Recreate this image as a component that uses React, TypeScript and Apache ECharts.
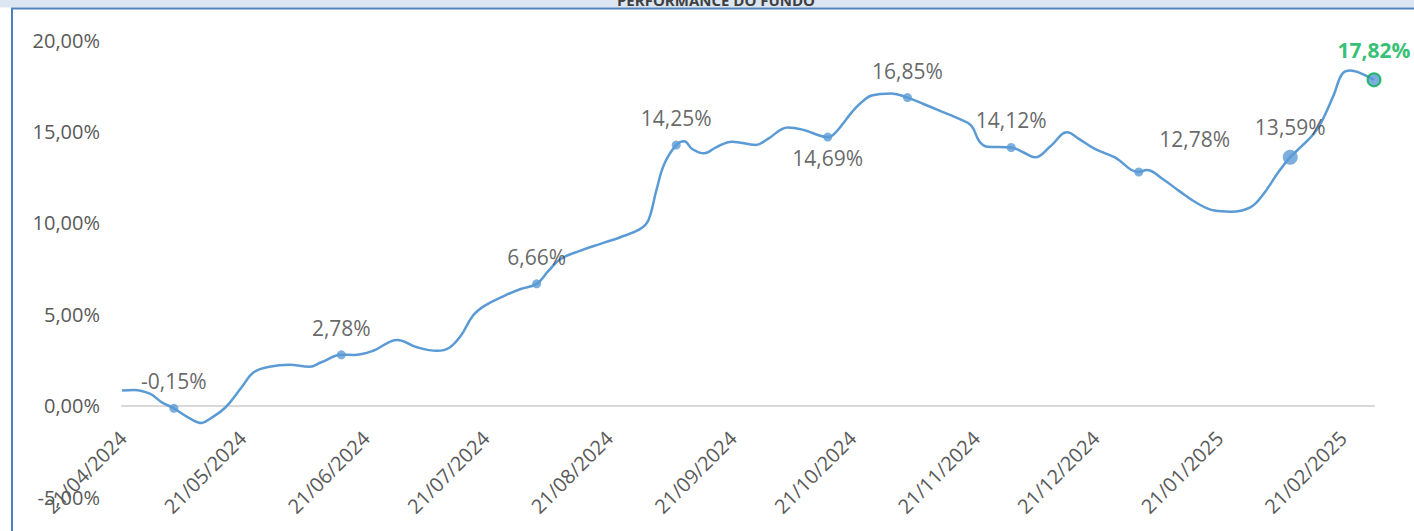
import React, { useEffect, useRef } from 'react';
import * as echarts from 'echarts';

const TITLE = 'PERFORMANCE DO FUNDO';
const START_DATE = '19/04/2024';
const END_DATE = '27/02/2025';
const TICK_LABELS = [
  '21/04/2024', '21/05/2024', '21/06/2024', '21/07/2024', '21/08/2024', '21/09/2024',
  '21/10/2024', '21/11/2024', '21/12/2024', '21/01/2025', '21/02/2025',
];
const Y_MIN = -5;
const Y_MAX = 20;
const Y_STEP = 5;

const LINE_DATES = [
  '19/04/2024', '22/04/2024', '26/04/2024', '29/04/2024', '02/05/2024', '06/05/2024', '09/05/2024',
  '11/05/2024', '15/05/2024', '19/05/2024', '22/05/2024', '26/05/2024', '31/05/2024', '05/06/2024',
  '08/06/2024', '13/06/2024', '16/06/2024', '21/06/2024', '27/06/2024', '02/07/2024', '07/07/2024',
  '10/07/2024', '13/07/2024', '16/07/2024', '19/07/2024', '24/07/2024', '28/07/2024', '01/08/2024',
  '04/08/2024', '07/08/2024', '12/08/2024', '17/08/2024', '22/08/2024', '27/08/2024', '29/08/2024',
  '31/08/2024', '02/09/2024', '05/09/2024', '07/09/2024', '09/09/2024', '12/09/2024', '15/09/2024',
  '19/09/2024', '25/09/2024', '28/09/2024', '03/10/2024', '07/10/2024', '13/10/2024', '15/10/2024',
  '19/10/2024', '21/10/2024', '24/10/2024', '29/10/2024', '02/11/2024', '06/11/2024', '10/11/2024',
  '15/11/2024', '18/11/2024', '20/11/2024', '22/11/2024', '28/11/2024', '01/12/2024', '04/12/2024',
  '08/12/2024', '12/12/2024', '15/12/2024', '19/12/2024', '24/12/2024', '30/12/2024', '01/01/2025',
  '05/01/2025', '09/01/2025', '14/01/2025', '18/01/2025', '22/01/2025', '27/01/2025', '30/01/2025',
  '03/02/2025', '06/02/2025', '09/02/2025', '12/02/2025', '14/02/2025', '17/02/2025', '19/02/2025',
  '21/02/2025', '23/02/2025', '27/02/2025',
];
const LINE_VALUES = [
  0.82, 0.86, 0.65, 0.18, -0.15, -0.7, -0.95,
  -0.73, -0.09, 1.0, 1.82, 2.13, 2.24, 2.13,
  2.37, 2.78, 2.77, 3.0, 3.59, 3.19, 3.0,
  3.15, 3.83, 4.92, 5.47, 6.02, 6.38, 6.66,
  7.38, 8.02, 8.48, 8.85, 9.21, 9.67, 10.12,
  11.76, 13.22, 14.25, 14.46, 14.04, 13.8, 14.13,
  14.44, 14.26, 14.59, 15.22, 15.08, 14.69, 14.95,
  16.04, 16.5, 16.96, 17.08, 16.85, 16.5, 16.14,
  15.68, 15.32, 14.46, 14.16, 14.12, 13.86, 13.58,
  14.22, 14.95, 14.59, 14.04, 13.58, 12.78, 12.89,
  12.4, 11.76, 11.03, 10.67, 10.61, 10.85, 11.49,
  12.76, 13.59, 14.22, 14.9, 15.59, 17.05, 18.14,
  18.33, 18.24, 17.82,
];

const MARKER_DATES = [
  '02/05/2024', '13/06/2024', '01/08/2024', '05/09/2024', '13/10/2024',
  '02/11/2024', '28/11/2024', '30/12/2024', '06/02/2025', '27/02/2025',
];
const MARKER_VALUES = [-0.15, 2.78, 6.66, 14.25, 14.69, 16.85, 14.12, 12.78, 13.59, 17.82];

const BLUE = '#5b9bd5';
const GREEN = '#00b050';
const FONT = '"Open Sans", "Noto Sans", sans-serif';

function parseDate(s: string): number {
  const [d, m, y] = s.split('/').map(Number);
  return Date.UTC(y, m - 1, d);
}
function formatDate(t: number): string {
  const dt = new Date(t);
  const dd = String(dt.getUTCDate()).padStart(2, '0');
  const mm = String(dt.getUTCMonth() + 1).padStart(2, '0');
  return `${dd}/${mm}/${dt.getUTCFullYear()}`;
}
function buildCategories(): string[] {
  const out: string[] = [];
  const end = parseDate(END_DATE);
  for (let t = parseDate(START_DATE); t <= end; t += 86400000) out.push(formatDate(t));
  return out;
}
const fmt = (v: number) => v.toFixed(2).replace('.', ',') + '%';

const GRID_TOP = 40;
const GRID_BOTTOM = 34;
const CHART_H = 531;

export default function App() {
  const ref = useRef<HTMLDivElement>(null);
  useEffect(() => {
    if (!ref.current) return;
    const chart = echarts.init(ref.current, undefined, { renderer: 'svg' });
    const categories = buildCategories();
    const last = MARKER_VALUES.length - 1;
    const plotH = CHART_H - GRID_TOP - GRID_BOTTOM;
    const zeroOffset = -plotH * (0 - Y_MIN) / (Y_MAX - Y_MIN);

    const markerData = MARKER_DATES.map((d, i) => {
      const item: any = { value: [d, MARKER_VALUES[i]] };
      if (i === 4) item.label = { position: 'bottom', distance: 6 };
      if (i === 7) item.label = { offset: [56, -6] };
      if (i === 8) item.symbolSize = 15;
      if (i === last) {
        item.symbolSize = 13;
        item.itemStyle = { color: BLUE, borderColor: GREEN, borderWidth: 2 };
        item.label = { color: GREEN, fontWeight: 'bold' };
      }
      return item;
    });

    chart.setOption({
      animation: false,
      backgroundColor: '#ffffff',
      grid: { left: 122, right: 40, top: GRID_TOP, bottom: GRID_BOTTOM, containLabel: false, outerBoundsMode: 'none' },
      xAxis: {
        type: 'category',
        data: categories,
        boundaryGap: false,
        position: 'bottom',
        offset: zeroOffset,
        axisLine: { onZero: false, lineStyle: { color: '#d9d9d9', width: 2 } },
        axisTick: { show: false },
        splitLine: { show: false },
        axisLabel: {
          interval: (_i: number, v: string) => TICK_LABELS.includes(v),
          rotate: 45,
          margin: 22,
          padding: [0, 10, 0, 0],
          color: '#595959',
          fontSize: 20,
          fontFamily: FONT,
          hideOverlap: false,
        },
      },
      yAxis: {
        type: 'value',
        min: Y_MIN,
        max: Y_MAX,
        interval: Y_STEP,
        axisLine: { show: false },
        axisTick: { show: false },
        splitLine: { show: false },
        axisLabel: { formatter: fmt, margin: 22, color: '#595959', fontSize: 20, fontFamily: FONT },
      },
      graphic: [
        { type: 'rect', z: 0, silent: true, shape: { x: 0, y: 0, width: 1414, height: 7.5 }, style: { fill: '#dce6f2' } },
        {
          type: 'text', z: 1, x: 716, y: 7, silent: true,
          style: { text: TITLE, align: 'center', verticalAlign: 'bottom', font: `bold 15px ${FONT}`, fill: '#404040' },
        },
        { type: 'line', z: 1, silent: true, shape: { x1: 11, y1: 8.5, x2: 1414, y2: 8.5 }, style: { stroke: '#4f81bd', lineWidth: 2 } },
        { type: 'line', z: 1, silent: true, shape: { x1: 12, y1: 8, x2: 12, y2: 531 }, style: { stroke: '#4f81bd', lineWidth: 2 } },
      ],
      series: [
        {
          type: 'line',
          data: LINE_DATES.map((d, i) => [d, LINE_VALUES[i]]),
          smooth: 0.4,
          symbol: 'none',
          lineStyle: { color: BLUE, width: 2.5 },
          z: 2,
        },
        {
          type: 'scatter',
          data: markerData,
          symbol: 'circle',
          symbolSize: 9,
          itemStyle: { color: BLUE },
          label: {
            show: true,
            position: 'top',
            distance: 12,
            formatter: (p: any) => fmt(p.value[1]),
            color: '#404040',
            fontSize: 21,
            fontFamily: FONT,
          },
          z: 3,
        },
      ],
    });
    return () => chart.dispose();
  }, []);
  return (
    <div
      ref={ref}
      style={{ position: 'absolute', left: 0, top: 0, width: 1414, height: 531, background: '#fff' }}
    />
  );
}
